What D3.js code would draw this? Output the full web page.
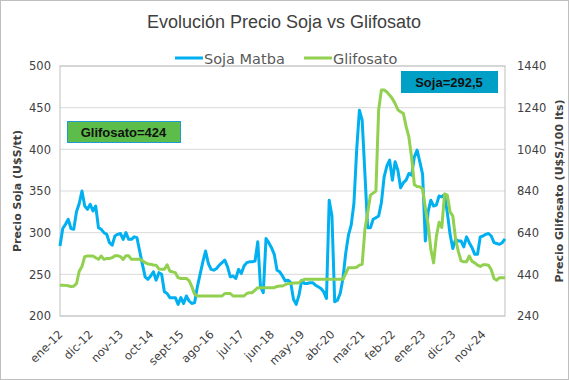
<!DOCTYPE html>
<html>
<head>
<meta charset="utf-8">
<script src="https://cdn.jsdelivr.net/npm/d3@7"></script>
<style>
  body { margin: 0; background: #fff; }
  svg { display: block; }
</style>
</head>
<body>
<svg id="chart" width="569" height="380"></svg>
<script>
// meses ene-12 .. jul-25
var meses = ["ene","feb","mar","abr","may","jun","jul","ago","sept","oct","nov","dic"];
var fechas = [];
for (var a = 12; a <= 25; a++) {
  meses.forEach(function (m, k) {
    if (a == 25 && k > 6) return;
    fechas.push(m + "-" + a);
  });
}
var etiquetas = ["ene-12","dic-12","nov-13","oct-14","sept-15","ago-16","jul-17","jun-18","may-19","abr-20","mar-21","feb-22","ene-23","dic-23","nov-24"];
var ticksSoja = [200, 250, 300, 350, 400, 450, 500];
var ticksGlif = [240, 440, 640, 840, 1040, 1240, 1440];

// U$S/tt
var soja = [284,305,310,316,305,304,325,335,350,332,328,334,326,332,306,304,300,298,288,285,
  296,298,299,292,300,292,292,295,294,278,262,247,244,248,253,243,252,250,229,227,
  222,222,222,214,222,215,224,218,215,216,235,250,265,278,263,256,255,257,261,264,
  267,259,247,248,245,256,251,260,264,265,265,266,289,235,228,293,288,282,274,255,
  253,248,242,243,240,220,214,225,243,239,239,240,240,237,235,233,229,221,339,320,
  217,219,227,245,275,297,309,335,399,447,435,371,306,306,316,318,320,336,367,380,
  387,363,385,375,354,360,363,371,369,391,399,385,370,290,325,339,332,333,344,343,
  346,324,298,281,292,290,290,283,295,288,282,274,274,295,296,298,299,296,288,287,
  286,288,292.5];
// U$S/100 lts
var glifosato = [388,388,387,385,381,383,395,455,478,525,528,528,528,520,512,528,512,516,516,520,
  529,529,525,512,529,529,512,512,512,512,506,496,490,488,485,484,466,464,464,486,
  455,452,448,424,420,420,420,410,381,345,336,336,336,336,336,336,336,336,336,336,
  348,348,348,336,336,336,336,336,348,352,352,364,376,376,376,376,376,376,376,382,
  384,384,390,396,396,398,398,400,410,416,416,416,416,416,416,416,416,416,416,416,
  416,416,416,416,444,472,472,472,474,484,488,656,735,820,830,840,1230,1325,1325,1315,
  1300,1283,1260,1230,1220,1212,1150,1100,1000,870,862,860,850,760,680,560,495,620,690,665,
  826,820,740,720,610,550,505,500,500,528,502,495,484,478,486,486,484,462,420,412,
  424,424,424];

var azul = "#00b0f0", verde = "#92d050";
var svg = d3.select("#chart");
var pLeft = 60, pRight = 505, pTop = 66, pBottom = 316;

svg.append("rect").attr("x", 0.5).attr("y", 0.5).attr("width", 568).attr("height", 379)
  .attr("fill", "#fff").attr("stroke", "#bfbfbf");

var x = d3.scalePoint().domain(fechas).range([pLeft, pRight]);
var y = d3.scaleLinear().domain([200, 500]).range([pBottom, pTop]);
var y2 = d3.scaleLinear().domain([240, 1440]).range([pBottom, pTop]);

// grid
svg.append("g").selectAll("line").data(ticksSoja).enter().append("line")
  .attr("x1", pLeft).attr("x2", pRight)
  .attr("y1", d => y(d)).attr("y2", d => y(d))
  .attr("stroke", "#d9d9d9");
svg.append("rect").attr("x", pLeft).attr("y", pTop).attr("width", pRight - pLeft).attr("height", pBottom - pTop)
  .attr("fill", "none").attr("stroke", "#bfbfbf");

var tickFont = "DejaVu Sans, Verdana, sans-serif";

var ax = svg.append("g").attr("transform", "translate(" + (pLeft - 9) + ",0)")
  .call(d3.axisLeft(y).tickValues(ticksSoja).tickSize(0).tickPadding(0));
var ax2 = svg.append("g").attr("transform", "translate(" + (pRight + 12) + ",0)")
  .call(d3.axisRight(y2).tickValues(ticksGlif).tickFormat(d3.format("d")).tickSize(0).tickPadding(0));
var axb = svg.append("g").attr("transform", "translate(0," + pBottom + ")")
  .call(d3.axisBottom(x).tickValues(etiquetas).tickSize(0));
[ax, ax2, axb].forEach(function (g) {
  g.select(".domain").remove();
  g.selectAll("text").attr("fill", "#404040").style("font-family", tickFont).style("font-size", "11.5px");
});
axb.selectAll("text")
  .attr("text-anchor", "end")
  .attr("dy", null).attr("y", null)
  .attr("transform", "translate(3,19) rotate(-45)");

// lineas
var linea = d3.line().x((d, i) => x(fechas[i]));
svg.append("path").datum(soja)
  .attr("d", linea.y(d => y(d)))
  .attr("fill", "none").attr("stroke", azul).attr("stroke-width", 3).attr("stroke-linejoin", "round");
svg.append("path").datum(glifosato)
  .attr("d", d3.line().x((d, i) => x(fechas[i])).y(d => y2(d)))
  .attr("fill", "none").attr("stroke", verde).attr("stroke-width", 3).attr("stroke-linejoin", "round");

// titulo
svg.append("text").attr("x", 284).attr("y", 28).attr("text-anchor", "middle")
  .style("font-family", "Liberation Sans, Arial, sans-serif").style("font-size", "18px")
  .attr("fill", "#404040").text("Evolución Precio Soja vs Glifosato");

// leyenda
var leyenda = [{n: "Soja Matba", c: azul, x: 175}, {n: "Glifosato", c: verde, x: 304}];
leyenda.forEach(function (l) {
  svg.append("line").attr("x1", l.x).attr("x2", l.x + 28).attr("y1", 58).attr("y2", 58)
    .attr("stroke", l.c).attr("stroke-width", 3);
  svg.append("text").attr("x", l.x + 29).attr("y", 63.5)
    .style("font-family", tickFont).style("font-size", "14.5px")
    .attr("fill", "#595959").text(l.n);
});

// titulos de ejes
svg.append("text").attr("transform", "translate(21,191) rotate(-90)").attr("text-anchor", "middle")
  .style("font-family", tickFont).style("font-size", "11px").style("font-weight", "bold")
  .attr("fill", "#404040").text("Precio Soja (U$S/tt)");
svg.append("text").attr("transform", "translate(563,191) rotate(-90)").attr("text-anchor", "middle")
  .style("font-family", tickFont).style("font-size", "11px").style("font-weight", "bold")
  .attr("fill", "#404040").text("Precio Glifosato (U$S/100 lts)");

// cajas de ultimo valor
var cajas = [
  {t: "Glifosato=" + glifosato[glifosato.length - 1], x: 67, y: 121, w: 113, h: 21, fill: "#5cbd4b", stroke: "#1f9bd1"},
  {t: "Soja=" + String(soja[soja.length - 1]).replace(".", ","), x: 401, y: 71, w: 96, h: 21, fill: "#00a0c6", stroke: "#00a0c6"}
];
cajas.forEach(function (c) {
  svg.append("rect").attr("x", c.x + 0.5).attr("y", c.y + 0.5).attr("width", c.w).attr("height", c.h)
    .attr("fill", c.fill).attr("stroke", c.stroke);
  svg.append("text").attr("x", c.x + c.w / 2).attr("y", c.y + c.h / 2 + 5)
    .attr("text-anchor", "middle")
    .style("font-family", "Liberation Sans, Arial, sans-serif").style("font-size", "13px").style("font-weight", "bold")
    .attr("fill", "#111").text(c.t);
});
</script>
</body>
</html>
